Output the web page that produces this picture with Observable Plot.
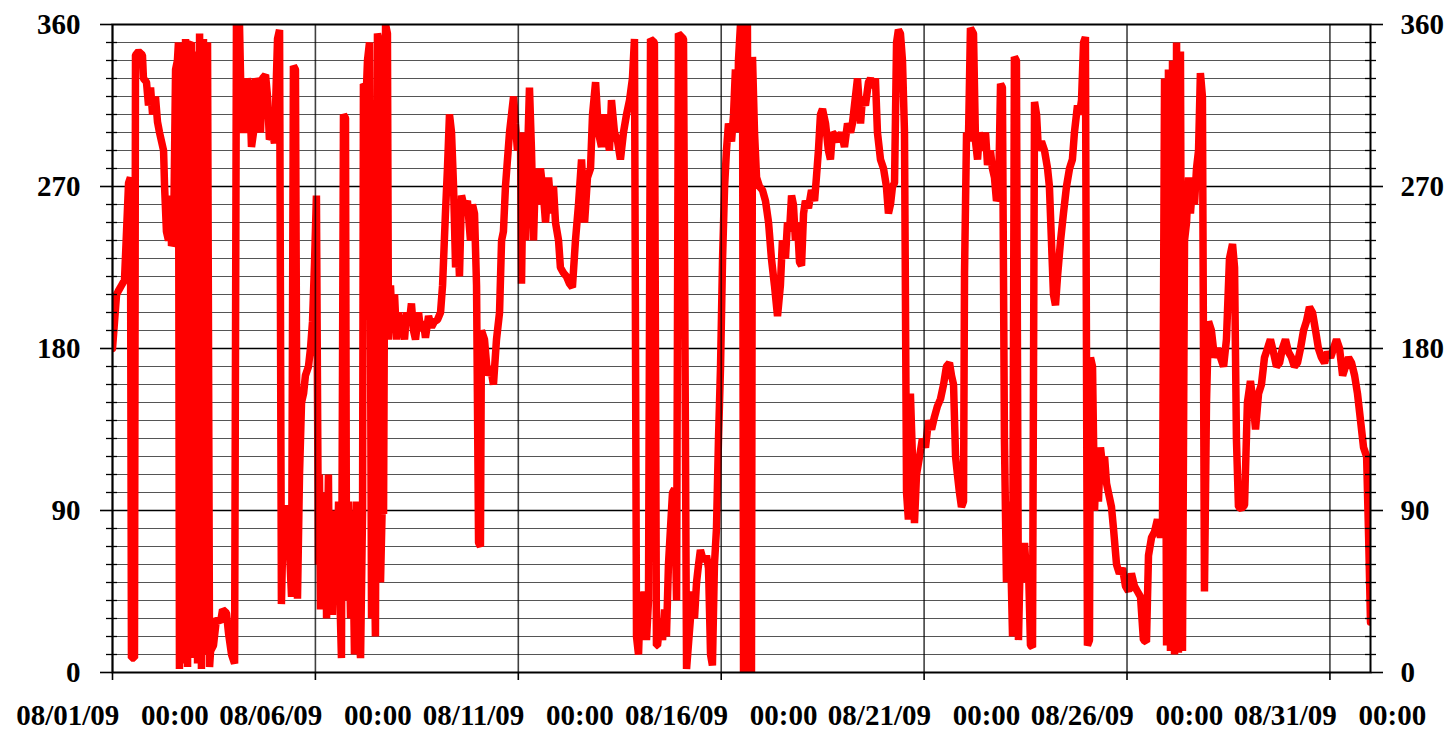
<!DOCTYPE html>
<html>
<head>
<meta charset="utf-8">
<script src="https://cdn.jsdelivr.net/npm/d3@7"></script>
<script src="https://cdn.jsdelivr.net/npm/@observablehq/plot@0.6"></script>
<style>
  html, body { margin: 0; padding: 0; background: #fff; }
</style>
</head>
<body>
<div id="chart"></div>
<script>
// Wind direction (degrees), hours since 08/01/09 00:00
const block1Hours = [0,1.2,2.4,3.5,5.3,7.1,8.3,9.5,10.6,11.2,13.0,13.6,15.4,17.7,18.3,20.1,21.3,22.5,23.7,25.4,26.6,27.8,29.0,30.2,30.8,31.9,33.1,34.3,34.9,36.1,37.3,38.4,39.0,39.6,40.8,42.0,43.2,44.4,44.9,46.7,47.9,49.1,50.3,51.5,52.6,53.8,55.0,56.2,57.4,58.0,59.7,61.5,63.9,65.1,67.4,68.6,70.4,72.2,73.3,75.1,76.3,77.5,78.7,79.8,81.0,82.2,83.4,84.6,86.3,87.5,88.7,90.5,91.7,92.8,94.6,95.8,97.6,98.8,99.9,101.1,102.3,103.5,104.7,105.9,107.0,108.2,109.4,110.6,111.8,113.0,114.1,115.9,117.1,118.3,119.5];
const block1Dir   = [180,195,210,212,215,218,245,272,275,8,8,343,345,343,330,328,315,325,310,320,306,300,295,290,270,245,240,265,237,240,335,340,350,2,345,5,352,3,348,350,8,345,5,355,2,352,10,350,3,12,15,30,28,35,33,22,10,5,360,360,305,300,310,330,325,292,300,330,325,300,330,332,320,296,300,294,352,357,38,90,93,70,67,42,337,335,41,110,150,155,165,170,180,195,228];

const block2Hours = [120.6,121.8,122.4,123.0,124.2,124.8,126.0,126.6,127.7,128.3,129.5,130.1,131.3,132.5,133.7,134.8,135.4,136.6,137.8,138.4,139.6,140.8,141.9,143.1,144.3,145.5,146.7,147.9,148.4,150.2,150.8,152.0,153.2,154.4,155.5,156.7,157.9,158.5,159.7,160.3,161.5,162.6,163.2,164.4,165.6,166.8,168.0,169.1,170.3,171.5,172.7,173.9,175.6,176.8,178.0,179.2,181.0,182.2,183.9,185.1,186.9,188.7,190.4,192.2,194.0,195.2,196.9,198.1,199.3,200.5,201.7,202.9,204.0,205.2,206.4,208.2,209.9,211.7,212.9,214.1,215.3,216.5,217.6,218.2,220.0,221.8,223.5,225.3,227.1,228.9,230.1,231.2,232.4,233.6,234.8,236.0,237.2,238.3,239.5];
const block2Dir   = [265,60,110,35,100,40,95,30,110,45,80,32,90,40,95,30,8,310,308,40,95,30,90,10,95,25,8,90,327,325,340,350,30,95,20,355,350,50,100,88,360,355,185,215,190,210,185,200,190,195,185,200,195,205,190,185,200,190,195,186,198,192,195,196,200,215,255,280,310,300,270,225,250,220,265,258,262,240,260,255,215,72,70,190,185,165,170,160,185,200,240,245,270,285,300,310,320,305,290];

const block3Hours = [241.3,241.9,243.1,244.2,245.4,246.6,247.8,249.0,250.2,251.3,253.1,254.9,256.1,257.9,259.6,260.8,262.0,263.8,264.9,266.7,268.5,270.3,272.0,273.8,275.6,277.4,279.2,280.9,282.7,283.9,285.7,287.4,289.2,290.4,292.2,293.9,295.1,296.9,298.7,300.4,302.2,304.0,305.8,307.5,308.7,309.9,311.1,312.3,313.4,314.6,315.8,317.0,318.2,320.5,321.7,322.3,324.1,325.3,326.5,327.6,328.8,330.0,331.2,332.4,333.6,334.7,337.7,339.5,341.8,343.0,344.2,345.4,346.6,347.7,349.5,351.3,352.5,353.7,354.8,356.0,357.2,358.4,359.6,360.8,362.0,363.1];
const block3Dir   = [300,216,300,240,285,325,290,240,280,260,280,265,250,275,255,270,250,240,225,222,220,216,214,240,260,285,250,275,280,310,328,300,292,310,300,290,318,300,295,285,300,310,318,330,352,20,10,45,20,45,18,40,352,350,15,15,30,18,35,20,60,80,100,102,40,355,352,2,30,45,30,50,60,68,62,65,58,10,4,60,80,130,170,230,270,290];

const block4Hours = [364.3,366.1,367.3,368.4,369.6,370.2,371.4,372.6,373.2,374.9,375.5,376.7,377.9,378.5,379.7,380.9,382.6,384.4,386.2,388.0,389.7,391.5,393.3,395.0,396.2,398.0,399.2,400.4,401.6,402.7,403.9,405.1,406.3,407.5,408.7,409.8,411.6,413.4,415.2,416.3,417.5,418.7,419.9,421.7,423.4,424.6,425.8,427.6,429.4,431.1,432.9,434.7,436.5,437.6,439.4,440.6,442.4,443.6,445.3,447.1,448.3,450.1,451.2,452.4,454.2,456.0,457.7,458.9,460.1,461.3,462.5,463.7,464.8,466.0,467.2,468.4,469.6,470.7,471.9,473.1,474.3,475.5,477.3,479.0,480.8,482.6,484.4,486.1];
const block4Dir   = [305,295,310,335,300,340,360,358,0,0,360,5,0,342,300,275,270,268,262,250,230,215,198,215,240,230,250,245,265,260,240,250,228,226,255,262,258,268,262,275,290,310,313,305,290,285,300,298,295,300,292,305,300,305,320,330,305,320,315,328,330,325,330,300,285,280,270,255,260,270,272,350,357,355,340,300,100,85,155,120,83,110,120,130,125,140,135,142];

const block5Hours = [487.9,489.7,491.5,493.2,495.0,496.2,497.4,498.6,499.7,500.9,502.1,503.3,503.9,505.1,506.2,507.4,509.2,510.4,511.6,512.7,513.9,515.1,516.3,517.5,519.2,520.4,521.6,522.8,524.0,525.2,526.3,527.5,528.7,529.9,531.1,532.3,533.4,534.6,535.8,537.0,538.2,539.4,540.5,541.7,542.9,544.1,545.3,546.5,547.6,549.4,551.2,553.0,554.1,555.3,556.5,557.7,558.9,560.7,562.4,564.2,566.0,567.7,568.9,570.7,571.9,573.1,574.3,575.4,576.6,577.8,578.4,579.6,580.8,581.9,583.1,584.3,585.5,586.7,587.9,589.0,590.8,592.0,593.8,595.5,597.3,599.1,600.9];
const block5Dir   = [148,152,160,170,172,165,160,120,110,100,92,95,222,300,295,358,355,295,285,300,295,290,300,282,290,280,275,262,265,327,325,130,50,95,70,20,342,340,18,70,50,72,55,60,15,14,317,310,290,295,290,280,270,240,210,204,220,240,255,270,280,285,300,315,310,318,350,353,15,18,175,170,90,120,95,125,115,120,105,100,92,80,60,55,58,48,45];

const block6Hours = [602.6,604.4,606.2,608.0,609.7,611.5,612.7,614.5,616.2,618.0,619.8,621.0,622.2,623.4,624.5,625.7,626.9,628.1,629.3,630.4,631.6,632.8,634.0,635.2,636.4,637.5,638.7,639.9,641.1,642.3,643.4,644.6,645.8,647.0,648.2,649.9,651.7,653.5,655.3,657.1,658.8,660.6,662.4,663.6,664.7,665.9,667.7,669.5,671.2,673.0,674.8,676.0,677.8,679.5,681.3,683.1,684.8,686.6,688.4,690.2,691.9,693.7,695.5,697.3,699.0,700.8,702.6,704.4,706.1,707.9,709.7,711.5,713.2,715.0,716.8,718.6,720.4,722.1,723.9,725.7,727.5,729.2,731.0,732.8,734.6,736.3,738.1,739.9,741.7,742.9,744.0];
const block6Dir   = [55,48,45,42,18,17,65,75,78,85,75,85,330,15,335,12,340,10,350,11,345,12,240,250,275,255,270,260,280,290,333,320,45,150,195,190,175,180,175,170,185,230,238,225,130,92,91,93,150,162,148,135,155,160,175,180,185,178,170,172,180,185,178,175,170,172,180,190,195,203,200,190,180,175,172,178,175,180,185,180,165,170,175,172,165,155,140,125,120,75,28];

const yLabelTicks = [0, 90, 180, 270, 360];
const minorLevels = [10,20,30,40,50,60,70,80,100,110,120,130,140,150,160,170,190,200,210,220,230,240,250,260,280,290,300,310,320,330,340,350];
const majorLevels = [90, 180, 270];
const tickDayOffsets = [0, 5, 10, 15, 20, 25, 30];
const spanHours = 744;

const start = Date.UTC(2009, 7, 1);
const toDate = h => new Date(start + h * 3600e3);

const hours = [...block1Hours, ...block2Hours, ...block3Hours, ...block4Hours, ...block5Hours, ...block6Hours];
const dirs  = [...block1Dir, ...block2Dir, ...block3Dir, ...block4Dir, ...block5Dir, ...block6Dir];
const data = hours.map((h, i) => ({time: toDate(h), dir: dirs[i]}));

const xTicks = tickDayOffsets.map(d => toDate(d * 24));
const x0 = toDate(0), x1 = toDate(spanHours);
const fmtDate = d3.utcFormat("%m/%d/%y"), fmtTime = d3.utcFormat("%H:%M");
const fmt = d => fmtDate(d) + "\u00a0\u00a0\u00a0" + fmtTime(d);

const chart = Plot.plot({
  width: 1449,
  height: 730,
  marginTop: 24,
  marginRight: 79,
  marginBottom: 58,
  marginLeft: 112,
  style: {
    fontFamily: "'Liberation Serif', 'Times New Roman', serif",
    fontSize: "29px",
    fontWeight: "bold",
    color: "#000",
    background: "#fff",
    overflow: "visible"
  },
  x: {type: "utc", domain: [x0, x1]},
  y: {domain: [0, 360]},
  marks: [
    Plot.ruleY(minorLevels, {stroke: "#555", strokeWidth: 1}),
    Plot.ruleY(majorLevels, {stroke: "#000", strokeWidth: 1.6}),
    Plot.line(data, {x: "time", y: "dir", stroke: "#ff0000", strokeWidth: 7.5, strokeLinejoin: "miter", clip: true}),
    Plot.ruleX(xTicks, {stroke: "#000", strokeWidth: 1.6, strokeOpacity: 0.75}),
    Plot.ruleY(minorLevels, {x1: x0, x2: x0, insetLeft: -6, insetRight: -5, stroke: "#000", strokeWidth: 1.3}),
    Plot.ruleY(minorLevels, {x1: x1, x2: x1, insetLeft: -5, insetRight: -6, stroke: "#000", strokeWidth: 1.3}),
    Plot.frame({stroke: "#000", strokeWidth: 2}),
    Plot.axisY(yLabelTicks, {anchor: "left", tickSize: 12, tickPadding: 20, label: null, strokeWidth: 1.6}),
    Plot.axisY(yLabelTicks, {anchor: "right", tickSize: 12, tickPadding: 18, label: null, strokeWidth: 1.6}),
    Plot.axisX(xTicks, {anchor: "bottom", tickSize: 8, tickPadding: 24, tickFormat: fmt, label: null, strokeWidth: 1.6})
  ]
});
document.getElementById("chart").appendChild(chart);
</script>
</body>
</html>
